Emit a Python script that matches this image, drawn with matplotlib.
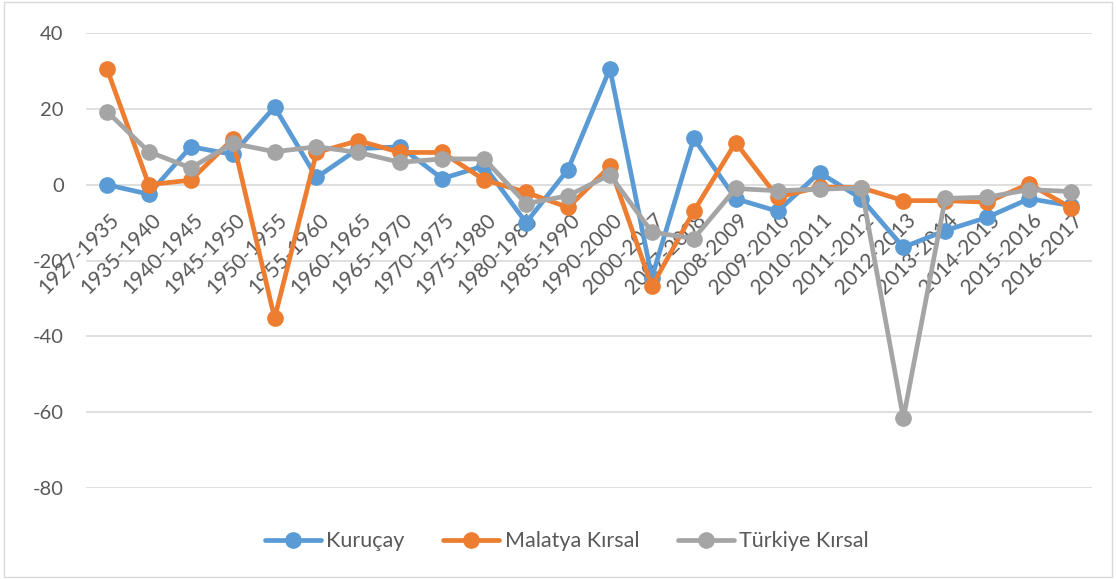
import matplotlib.pyplot as plt
from matplotlib.patches import Rectangle

periods = ["1927-1935", "1935-1940", "1940-1945", "1945-1950", "1950-1955",
           "1955-1960", "1960-1965", "1965-1970", "1970-1975", "1975-1980",
           "1980-1985", "1985-1990", "1990-2000", "2000-2007", "2007-2008",
           "2008-2009", "2009-2010", "2010-2011", "2011-2012", "2012-2013",
           "2013-2014", "2014-2015", "2015-2016", "2016-2017"]

kurucay = [0, -2.5, 10, 8, 20.5, 1.9, 9.5, 10, 1.6, 5,
           -10, 4, 30.6, -24.5, 12.2, -3.7, -7, 3.2, -3.7, -16.5,
           -12.1, -8.6, -3.7, -5.5]
malatya = [30.6, 0, 1.2, 12, -35.2, 8.5, 11.6, 8.5, 8.5, 1.3,
           -2, -6, 4.8, -26.8, -7, 11.1, -3.3, -0.6, -0.8, -4.2,
           -4.2, -4.6, 0.2, -6.1]
turkiye = [19.3, 8.7, 4.4, 10.9, 8.7, 10, 8.5, 5.9, 6.8, 6.8,
           -5, -2.9, 2.6, -12.5, -14.2, -1, -1.6, -1.2, -0.8, -61.6,
           -3.6, -3.3, -1.3, -1.8]

series = [("Kuruçay", kurucay, "#5B9BD5"),
          ("Malatya Kırsal", malatya, "#ED7D31"),
          ("Türkiye Kırsal", turkiye, "#A5A5A5")]

plt.rcParams['font.family'] = ['Lato', 'DejaVu Sans']
plt.rcParams['axes.unicode_minus'] = False

fig = plt.figure(figsize=(11.16, 5.79), dpi=100)
ax = fig.add_axes([0.077, 0.157, 0.9015, 0.786])

x = list(range(len(periods)))
for name, vals, color in series:
    ax.plot(x, vals, color=color, lw=3.4, marker="o", markersize=11,
            solid_capstyle="round", label=name, zorder=3)

ax.set_xlim(-0.5, len(periods) - 0.5)
ax.set_ylim(-80, 40)
ax.set_yticks(range(-80, 41, 20))
ax.grid(axis="y", color="#D9D9D9", lw=1.2, zorder=0)
ax.set_xticks([])
for s in ax.spines.values():
    s.set_visible(False)
ax.tick_params(axis="y", length=0, pad=16, labelsize=14.5, labelcolor="#595959")

# category labels hang below the zero line, like Excel does
for i, lab in enumerate(periods):
    ax.annotate(lab, xy=(i, 0), xytext=(1.5, -18), textcoords="offset points",
                ha="right", va="top", rotation=45, rotation_mode="anchor",
                fontsize=15, color="#595959", zorder=2)

fig.legend(loc="center", bbox_to_anchor=(0.508, 0.065), ncol=3, frameon=False,
           fontsize=15.5, labelcolor="#595959", handlelength=2.6, columnspacing=1.8,
           handletextpad=0.25)

fig.patches.append(Rectangle((0.004, 0.004), 0.992, 0.992, transform=fig.transFigure,
                             fill=False, edgecolor="#D9D9D9", lw=1))

fig.savefig("out.png", dpi=100)
